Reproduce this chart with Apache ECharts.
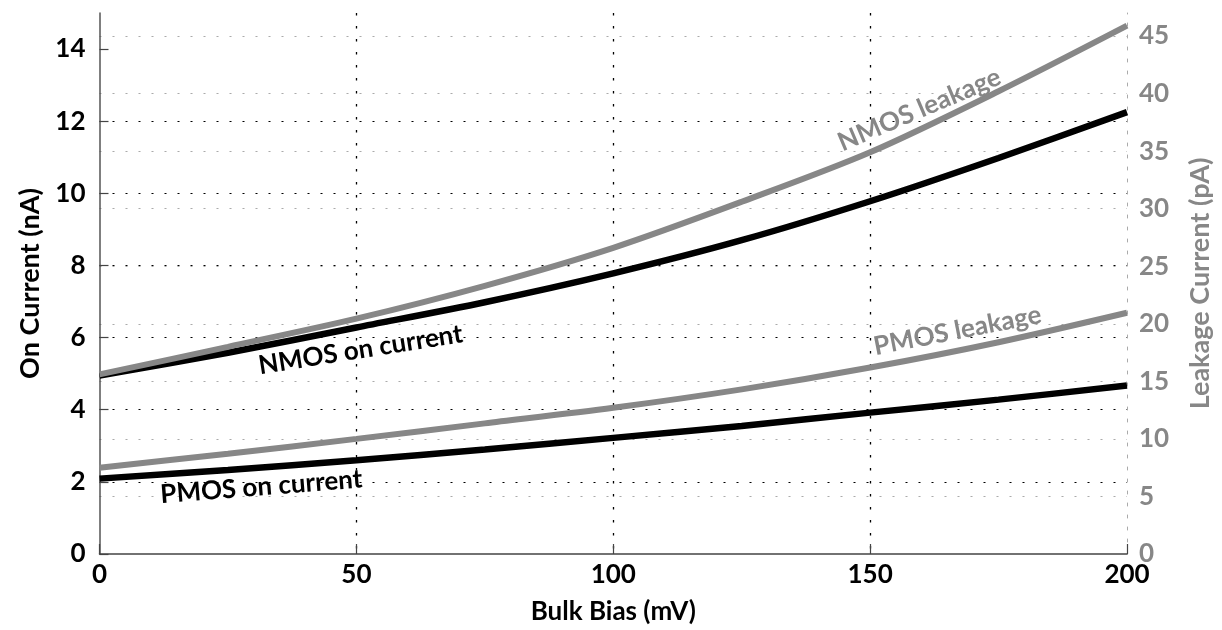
<!DOCTYPE html>
<html>
<head>
<meta charset="utf-8">
<script src="https://cdn.jsdelivr.net/npm/echarts@6/dist/echarts.min.js"></script>
<style>
html,body{margin:0;padding:0;background:#fff;}
#chart{width:1222px;height:630px;}
</style>
</head>
<body>
<div id="chart"></div>
<script>
// ---- data ----
const bias = [0, 25, 50, 75, 100, 125, 150, 175, 200];            // Bulk Bias (mV)
const nmosOn = [4.95, 5.58, 6.28, 6.98, 7.78, 8.7, 9.78, 10.98, 12.25];   // nA
const pmosOn = [2.09, 2.33, 2.6, 2.9, 3.22, 3.55, 3.92, 4.28, 4.67];   // nA
const nmosLeak = [15.6, 18.0, 20.45, 23.3, 26.6, 30.6, 34.9, 40.2, 45.9]; // pA
const pmosLeak = [7.5, 8.71, 10.0, 11.35, 12.7, 14.3, 16.2, 18.4, 20.96]; // pA
const xTicks = [0, 50, 100, 150, 200];
const leftTicks = [0, 2, 4, 6, 8, 10, 12, 14];
const rightTicks = [0, 5, 10, 15, 20, 25, 30, 35, 40, 45];

const FONT = 'Lato';
const GRAY = '#878787';

function pairs(ys) { return bias.map((x, i) => [x, ys[i]]); }

function note(text, coord, rot, color) {
  return {
    symbol: 'circle', symbolSize: 0,
    data: [{ coord: coord, value: text }],
    label: {
      show: true, position: 'inside', formatter: text, rotate: rot,
      color: color, fontFamily: FONT, fontWeight: 'bold', fontSize: 26
    },
    emphasis: { disabled: true }
  };
}

const chart = echarts.init(document.getElementById('chart'), null, { renderer: 'canvas' });
chart.setOption({
  animation: false,
  backgroundColor: '#fff',
  grid: { left: 99.5, right: 89.5, top: 13, bottom: 72.5, containLabel: false },
  xAxis: {
    type: 'value', min: 0, max: 200, interval: 50,
    name: 'Bulk Bias (mV)', nameLocation: 'middle', nameGap: 45,
    nameTextStyle: { fontFamily: FONT, fontWeight: 'bold', fontSize: 26, color: '#000' },
    axisLine: { show: true, lineStyle: { color: '#444', width: 1.5 } },
    axisTick: { show: true, inside: true, length: 10, lineStyle: { color: '#444', width: 1.2 },
      customValues: xTicks },
    axisLabel: { margin: 8, fontFamily: FONT, fontWeight: 'bold', fontSize: 26, color: '#000',
      customValues: xTicks },
    splitLine: { show: true, showMinLine: false, showMaxLine: false,
      lineStyle: { color: '#000', width: 1.3, type: [2.5, 10.5] } }
  },
  yAxis: [
    {
      type: 'value', min: 0, max: 15, interval: 2, position: 'left',
      name: 'On Current (nA)', nameLocation: 'middle', nameGap: 56, nameRotate: 90,
      nameTextStyle: { fontFamily: FONT, fontWeight: 'bold', fontSize: 27, color: '#000' },
      axisLine: { show: true, lineStyle: { color: '#555', width: 1.5 } },
      axisTick: { show: true, inside: true, length: 9, lineStyle: { color: '#444', width: 1.2 },
        customValues: leftTicks },
      axisLabel: { margin: 14, fontFamily: FONT, fontWeight: 'bold', fontSize: 26, color: '#000',
        customValues: leftTicks },
      splitLine: { show: true, showMinLine: false, showMaxLine: false,
        lineStyle: { color: '#000', width: 1.2, type: [2, 11] } }
    },
    {
      type: 'value', min: 0, max: 47, interval: 5, position: 'right',
      name: 'Leakage Current (pA)', nameLocation: 'middle', nameGap: 60, nameRotate: 90,
      nameTextStyle: { fontFamily: FONT, fontWeight: 'bold', fontSize: 27, color: GRAY },
      axisLine: { show: true, lineStyle: { color: '#aaa', width: 1, type: [3, 9] } },
      axisTick: { show: false },
      axisLabel: { margin: 12, fontFamily: FONT, fontWeight: 'bold', fontSize: 26, color: GRAY,
        customValues: rightTicks },
      splitLine: { show: true, showMinLine: false, showMaxLine: false,
        lineStyle: { color: '#aaa', width: 1.2, type: [2, 11] } }
    }
  ],
  series: [
    { name: 'NMOS on current', type: 'line', yAxisIndex: 0, smooth: 0.3, showSymbol: false,
      data: pairs(nmosOn), lineStyle: { color: '#000', width: 6.5 }, itemStyle: { color: '#000' },
      markPoint: note('NMOS on current', [50.8, 5.66], 9, '#000'), z: 3 },
    { name: 'PMOS on current', type: 'line', yAxisIndex: 0, smooth: 0.3, showSymbol: false,
      data: pairs(pmosOn), lineStyle: { color: '#000', width: 6.5 }, itemStyle: { color: '#000' },
      markPoint: note('PMOS on current', [31.5, 1.86], 4.5, '#000'), z: 3 },
    { name: 'NMOS leakage', type: 'line', yAxisIndex: 1, smooth: 0.3, showSymbol: false,
      data: pairs(nmosLeak), lineStyle: { color: GRAY, width: 6 }, itemStyle: { color: GRAY },
      markPoint: note('NMOS leakage', [159.6, 38.6], 23, GRAY), z: 4 },
    { name: 'PMOS leakage', type: 'line', yAxisIndex: 1, smooth: 0.3, showSymbol: false,
      data: pairs(pmosLeak), lineStyle: { color: GRAY, width: 6 }, itemStyle: { color: GRAY },
      markPoint: note('PMOS leakage', [167, 19.4], 11, GRAY), z: 4 }
  ]
});
</script>
</body>
</html>
